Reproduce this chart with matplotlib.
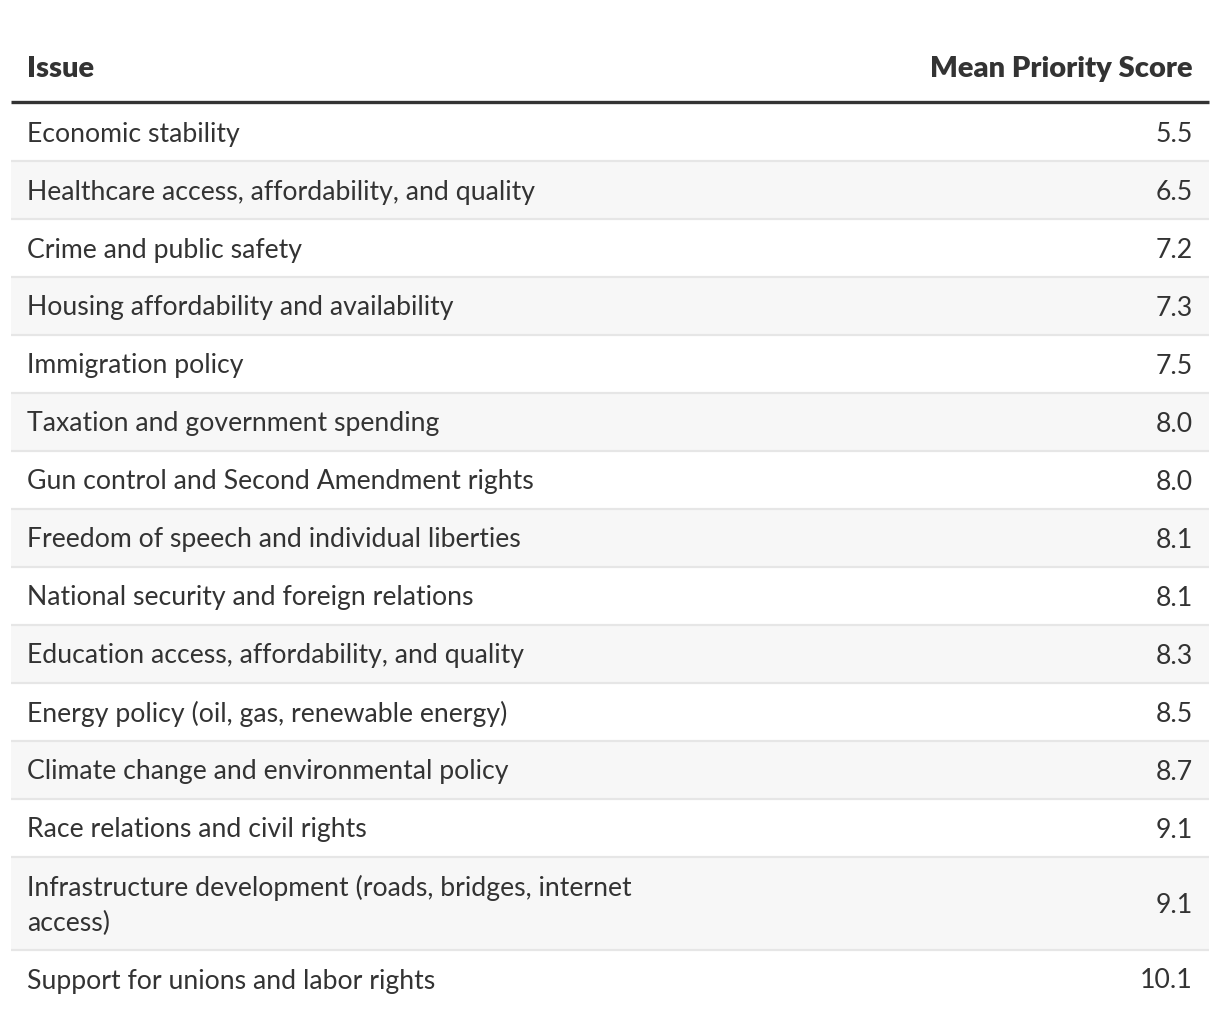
import textwrap
import matplotlib
matplotlib.use("Agg")
import matplotlib.pyplot as plt
from matplotlib.patches import Rectangle

issues = [
    "Economic stability",
    "Healthcare access, affordability, and quality",
    "Crime and public safety",
    "Housing affordability and availability",
    "Immigration policy",
    "Taxation and government spending",
    "Gun control and Second Amendment rights",
    "Freedom of speech and individual liberties",
    "National security and foreign relations",
    "Education access, affordability, and quality",
    "Energy policy (oil, gas, renewable energy)",
    "Climate change and environmental policy",
    "Race relations and civil rights",
    "Infrastructure development (roads, bridges, internet access)",
    "Support for unions and labor rights",
]
scores = [5.5, 6.5, 7.2, 7.3, 7.5, 8.0, 8.0, 8.1, 8.1, 8.3, 8.5, 8.7, 9.1, 9.1, 10.1]
col_headers = ["Issue", "Mean Priority Score"]

W, H = 1220, 1018
fig = plt.figure(figsize=(W / 100, H / 100), dpi=100)
ax = fig.add_axes([0, 0, 1, 1])
ax.set_xlim(0, W)
ax.set_ylim(H, 0)
ax.axis("off")

plt.rcParams["font.family"] = ["Lato", "DejaVu Sans"]
txt = "#333333"
fs = 19.2
hfs = 21
left, right = 11, 1209
pad = 16

# header
ax.text(left + pad, 68.5, col_headers[0], ha="left", va="center", fontsize=hfs,
        fontweight="heavy", color=txt)
ax.text(right - pad, 68.5, col_headers[1], ha="right", va="center", fontsize=hfs,
        fontweight="heavy", color=txt)
ax.plot([left, right], [101.5, 101.5], color="#333333", lw=2.4, solid_capstyle="butt")

y = 103
base_h = 58
line_h = 35
for i, (issue, sc) in enumerate(zip(issues, scores)):
    lines = textwrap.wrap(issue, 55)
    h = base_h + line_h * (len(lines) - 1)
    if i % 2 == 1:
        ax.add_patch(Rectangle((left, y), right - left, h, facecolor="#f7f7f7",
                               edgecolor="none", zorder=0))
    cy = y + h / 2 + 2
    ax.text(left + pad, cy, "\n".join(lines), ha="left", va="center", fontsize=fs,
            color=txt, linespacing=1.5)
    ax.text(right - pad, cy, f"{sc:.1f}", ha="right", va="center", fontsize=fs,
            color=txt)
    y += h
    if i < len(issues) - 1:
        ax.plot([left, right], [y, y], color="#e6e6e6", lw=1.6, solid_capstyle="butt")

fig.savefig("out.png", dpi=100, facecolor="white")
